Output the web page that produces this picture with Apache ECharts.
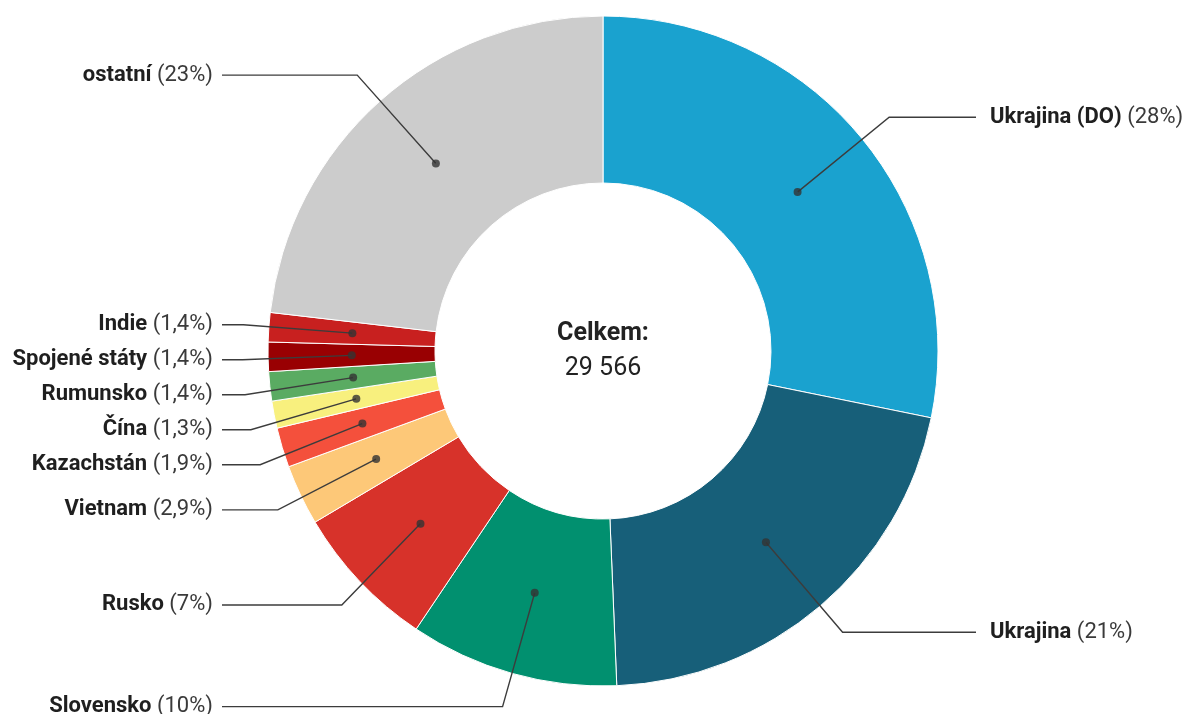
<!DOCTYPE html>
<html lang="cs">
<head>
<meta charset="utf-8">
<title>Celkem 29 566</title>
<script src="https://cdn.jsdelivr.net/npm/echarts@6/dist/echarts.min.js"></script>
<style>
  html, body { margin: 0; padding: 0; background: #ffffff; }
  #chart { width: 1189px; height: 714px; }
</style>
</head>
<body>
<div id="chart"></div>
<script>
// Shares in percent, in clockwise order from 12 o'clock
const countries = ['Ukrajina (DO)', 'Ukrajina', 'Slovensko', 'Rusko', 'Vietnam', 'Kazachstán', 'Čína', 'Rumunsko', 'Spojené státy', 'Indie', 'ostatní'];
const shares = [28, 21, 10, 7, 2.9, 1.9, 1.3, 1.4, 1.4, 1.4, 23];
const colors = ['#1aa2cf', '#175f79', '#01906f', '#d7322a', '#fdc878', '#f4503c', '#f8f07e', '#5aab62', '#990002', '#c8201f', '#cccccc'];
const totalLabel = 'Celkem:';
const total = 29566;

// Geometry of the ring
const CX = 603, CY = 351;
const R_OUT = 335, R_IN = 168, R_MID = (R_OUT + R_IN) / 2;
const LABEL_LEFT_X = 222, LABEL_RIGHT_X = 976;

const fmtPct = v => String(v).replace('.', ',');
const fmtTotal = v => String(v).replace(/\B(?=(\d{3})+(?!\d))/g, ' ');

const sum = shares.reduce((a, b) => a + b, 0);
// Middle of each slice on the angle axis (cumulative share)
const mids = [];
shares.reduce((acc, v) => { mids.push(acc + v / 2); return acc + v; }, 0);

const pieData = countries.map((name, i) => ({ name, value: shares[i], itemStyle: { color: colors[i] } }));

const chart = echarts.init(document.getElementById('chart'), null, { renderer: 'canvas' });

// Layout box for the pies; a little taller than the canvas so the lowest label may sit near the edge
const pieBox = { left: 0, top: 0, width: 1189, height: 740 };

chart.setOption({
  animation: false,
  backgroundColor: '#ffffff',
  textStyle: { fontFamily: 'Roboto' },
  polar: { center: [CX, CY], radius: R_OUT },
  angleAxis: { type: 'value', min: 0, max: sum, startAngle: 90, clockwise: true, show: false },
  radiusAxis: { type: 'value', min: 0, max: 1, show: false },
  graphic: [{
    type: 'group', x: CX, y: CY, silent: true,
    children: [
      { type: 'text', x: 0, y: -17, style: { text: totalLabel, font: 'bold 25px Roboto', fill: '#222', align: 'center', verticalAlign: 'middle' } },
      { type: 'text', x: 0, y: 18, style: { text: fmtTotal(total), font: '25px Roboto', fill: '#222', align: 'center', verticalAlign: 'middle' } }
    ]
  }],
  series: [
    Object.assign({
      // the visible ring
      type: 'pie',
      center: [CX, CY],
      radius: [R_IN, R_OUT],
      startAngle: 90,
      clockwise: true,
      silent: true,
      label: { show: false },
      labelLine: { show: false },
      itemStyle: { borderColor: '#ffffff', borderWidth: 1 },
      data: pieData,
      z: 1
    }, pieBox),
    Object.assign({
      // carrier for labels: its outer edge sits at the middle of the ring
      type: 'pie',
      center: [CX, CY],
      radius: [0, R_MID],
      startAngle: 90,
      clockwise: true,
      silent: true,
      itemStyle: { color: 'rgba(0,0,0,0)' },
      data: countries.map((name, i) => ({ name, value: shares[i] })),
      label: {
        show: true,
        position: 'outside',
        alignTo: 'none',
        bleedMargin: 0,
        distanceToLabelLine: 9,
        fontSize: 22,
        lineHeight: 33,
        formatter: p => '{b|' + p.name + ' }{p|(' + fmtPct(p.value) + '%)}',
        rich: {
          b: { fontFamily: 'Roboto', fontWeight: 'bold', fontSize: 22, color: '#1f1f1f', lineHeight: 33 },
          p: { fontFamily: 'Roboto', fontSize: 22, color: '#3a3a3a', lineHeight: 33 }
        }
      },
      labelLine: {
        show: true,
        length: 118,
        length2: 8,
        lineStyle: { color: '#3c3c3c', width: 1.4 }
      },
      labelLayout: function (p) {
        const pts = p.labelLinePoints;
        if (!pts) return {};
        const isLeft = pts[2][0] < CX;
        const endX = isLeft ? LABEL_LEFT_X : LABEL_RIGHT_X;
        return {
          x: isLeft ? endX - 9 : endX + 14,
          align: isLeft ? 'right' : 'left',
          labelLinePoints: [pts[0], pts[1], [endX, pts[1][1]]]
        };
      },
      z: 2
    }, pieBox),
    {
      // dots where each leader line starts
      type: 'scatter',
      coordinateSystem: 'polar',
      symbol: 'circle',
      symbolSize: 8,
      silent: true,
      itemStyle: { color: '#333333' },
      data: mids.map(m => [0.75, m]),
      z: 3
    }
  ]
});
</script>
</body>
</html>
